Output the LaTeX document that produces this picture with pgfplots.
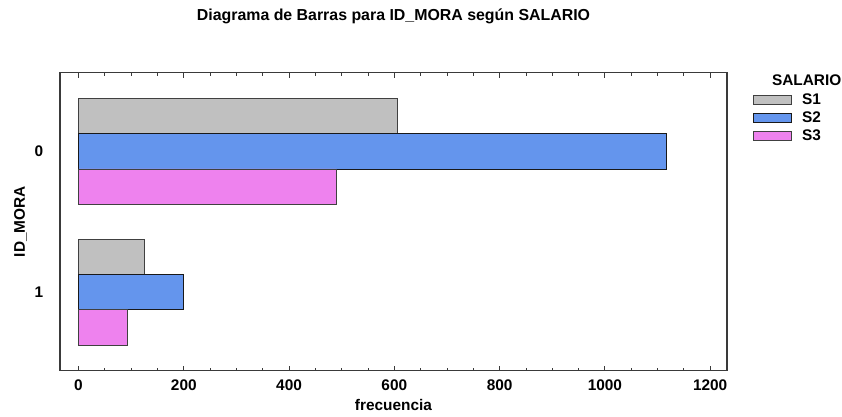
\documentclass[border=0pt]{standalone}
\usepackage{pgfplots}
\pgfplotsset{compat=1.18}
\usepackage{fontspec}
\setmainfont{Liberation Sans}
\definecolor{cS1}{HTML}{C0C0C0}
\definecolor{cS2}{HTML}{6495ED}
\definecolor{cS3}{HTML}{EE82EE}
\definecolor{axc}{HTML}{3A3A3A}
\pgfplotsset{
  mylegend/.style={legend image code/.code={%
    \draw[##1, line width=0.6bp] (0bp,-3.3bp) rectangle (38bp,6bp);
    \path[draw=none, fill=none] (0bp,-3.3bp) rectangle (49bp,6bp);}},
}
\begin{document}
\begin{tikzpicture}
\begin{axis}[
  at={(0,0)}, anchor=south west,
  scale only axis, width=667bp, height=298bp,
  xbar, bar width=0.25,
  xmin=-35.2, xmax=1232,
  ymin=-0.559, ymax=1.557, y dir=reverse,
  ytick={0,1}, yticklabels={0,1},
  xtick={0,200,400,600,800,1000,1200},
  xticklabels={0,200,400,600,800,1000,1200},
  minor x tick num=3,
  tick align=inside, xtick pos=both,
  major tick length=5bp, minor tick length=3bp,
  ytick style={draw=none},
  axis line style={axc, line width=1.3bp},
  every tick/.style={axc, line width=0.8bp},
  font=\fontsize{15.4bp}{18bp}\selectfont\bfseries,
  yticklabel style={anchor=east, inner sep=0pt, xshift=-16.5bp},
  xticklabel style={anchor=north, inner sep=0pt, yshift=-9.3bp},
  title={Diagrama de Barras para ID\_MORA según SALARIO},
  title style={at={(0.5,1)}, anchor=base, yshift=46.5bp, inner sep=0pt,
    font=\fontsize{15.9bp}{18bp}\selectfont\bfseries},
  xlabel={frecuencia},
  xlabel style={at={(0.5,0)}, anchor=base, yshift=-40bp, inner sep=0pt},
  ylabel={ID\_MORA},
  ylabel style={at={(0,0.5)}, anchor=base, yshift=35bp, inner sep=0pt},
  legend style={at={(rel axis cs:1,1)}, anchor=north west, xshift=25.7bp,
    yshift=0bp, draw=none, fill=none, inner sep=0pt, outer sep=0pt,
    row sep=0pt, font=\fontsize{15.4bp}{18bp}\selectfont\bfseries,
    nodes={inner sep=0pt, outer sep=0pt, text height=12.5bp, text depth=5.5bp}},
  legend cell align=left,
]
\addlegendimage{empty legend}
\addlegendentry[text depth=7bp]{\hspace*{-30bp}SALARIO}
\addplot[fill=cS1, draw=black!75, line width=0.6bp, bar shift=-0.25, mylegend]
  coordinates {(605,0) (125,1)};
\addlegendentry{S1}
\addplot[fill=cS2, draw=black!90, line width=0.6bp, bar shift=0, mylegend]
  coordinates {(1116,0) (200,1)};
\addlegendentry{S2}
\addplot[fill=cS3, draw=black!75, line width=0.6bp, bar shift=0.25, mylegend]
  coordinates {(490,0) (92,1)};
\addlegendentry{S3}
\end{axis}
\path (-60bp,-46.3bp) rectangle (782bp,370.5bp);
\end{tikzpicture}
\end{document}
